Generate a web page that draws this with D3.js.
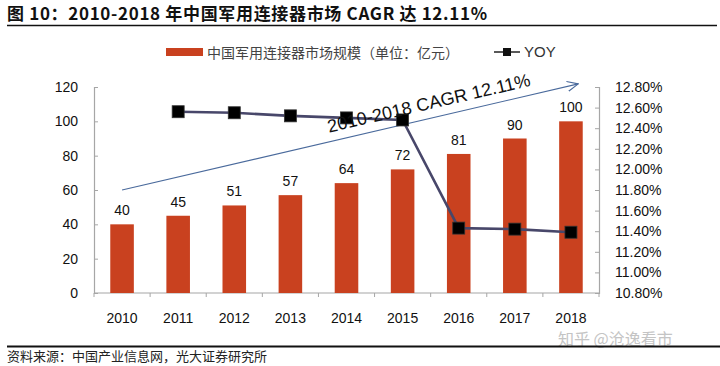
<!DOCTYPE html>
<html><head><meta charset="utf-8">
<script src="https://cdn.jsdelivr.net/npm/d3@7"></script>
<style>
html,body{margin:0;padding:0;background:#fff;}
svg{display:block;}
text{font-family:"Liberation Sans",Arial,sans-serif;}
.cjk{font-family:"Noto Sans CJK SC","Noto Sans",sans-serif;}
</style></head>
<body>
<svg id="chart" width="720" height="366"></svg>
<script>
const years = ["2010","2011","2012","2013","2014","2015","2016","2017","2018"];
const marketSize = [40,45,51,57,64,72,81,90,100];
const yoyYears = ["2011","2012","2013","2014","2015","2016","2017","2018"];
const yoy = [12.56,12.55,12.52,12.50,12.48,11.43,11.42,11.39];
const leftTicks = [0,20,40,60,80,100,120];
const rightTicks = [10.8,11.0,11.2,11.4,11.6,11.8,12.0,12.2,12.4,12.6,12.8];
const titleText = "图 10：2010-2018 年中国军用连接器市场 CAGR 达 12.11%";
const legendBar = "中国军用连接器市场规模（单位：亿元）";
const legendLine = "YOY";
const sourceText = "资料来源：中国产业信息网，光大证券研究所";
const cagrText = "2010-2018 CAGR 12.11%";
// CAGR arrow endpoints in data terms: [category position, left-axis value]
const cagrStart = [0, 60];
const cagrEnd = [8.13, 121.8];
const watermark = "知乎 @沧逸看市";

const svg = d3.select("#chart");
const x0 = 94, x1 = 599, yTop = 87, yBot = 293;

const x = d3.scaleBand().domain(years).range([x0, x1]).paddingInner(0.58).paddingOuter(0.29);
const yL = d3.scaleLinear().domain([0,120]).range([yBot, yTop]);
const yR = d3.scaleLinear().domain([10.8,12.8]).range([yBot, yTop]);
const step = x.step();
const cx = d => x(d) + x.bandwidth()/2;
const catPos = i => x(years[0]) + x.bandwidth()/2 + i*step;

// Title
svg.append("text").attr("class","cjk").attr("x",7).attr("y",20)
  .attr("font-size",17).attr("font-weight","bold").attr("fill","#111")
  .attr("textLength",480).attr("lengthAdjust","spacing").text(titleText);
svg.append("line").attr("x1",7).attr("x2",717).attr("y1",25.5).attr("y2",25.5)
  .attr("stroke","#111").attr("stroke-width",1.5);

// Legend
svg.append("rect").attr("x",166).attr("y",48).attr("width",37).attr("height",8).attr("fill","#c9411f");
svg.append("text").attr("class","cjk").attr("x",207).attr("y",53).attr("dy","0.35em")
  .attr("font-size",14).attr("fill","#444").text(legendBar);
svg.append("line").attr("x1",494).attr("x2",520).attr("y1",52).attr("y2",52)
  .attr("stroke","#222").attr("stroke-width",1.5);
svg.append("rect").attr("x",503).attr("y",48).attr("width",8).attr("height",8).attr("fill","#111");
svg.append("text").attr("x",524).attr("y",52).attr("dy","0.35em")
  .attr("font-size",15).attr("fill","#333").text(legendLine);

// Axes
const axisColor = "#a6a6a6";
const gL = svg.append("g").attr("transform",`translate(${x0},0)`)
  .call(d3.axisLeft(yL).tickValues(leftTicks).tickSize(-4).tickPadding(16).tickFormat(d3.format("d")));
const gR = svg.append("g").attr("transform",`translate(${x1},0)`)
  .call(d3.axisRight(yR).tickValues(rightTicks).tickSize(-4).tickPadding(16).tickFormat(d => d.toFixed(2)+"%"));
[gL,gR].forEach(g => {
  g.select(".domain").attr("stroke",axisColor).attr("stroke-width",1.2);
  g.selectAll(".tick line").attr("stroke",axisColor);
  g.selectAll(".tick text").attr("font-size",14).attr("fill","#111")
    .attr("font-family","'Liberation Sans',Arial,sans-serif");
});
gR.selectAll(".tick text").attr("x",16);
gL.selectAll(".tick text").attr("x",-16);

// X axis
svg.append("line").attr("x1",x0).attr("x2",x1).attr("y1",yBot).attr("y2",yBot)
  .attr("stroke",axisColor).attr("stroke-width",1.2);
svg.append("g").selectAll("line").data(d3.range(years.length+1)).join("line")
  .attr("x1",i => x0 + i*step).attr("x2",i => x0 + i*step)
  .attr("y1",yBot).attr("y2",yBot+4).attr("stroke",axisColor);
svg.append("g").selectAll("text").data(years).join("text")
  .attr("x",d => cx(d)).attr("y",318).attr("dy","0.35em").attr("text-anchor","middle")
  .attr("font-size",14).attr("fill","#111").text(d => d);

// Bars
svg.append("g").selectAll("rect").data(years).join("rect")
  .attr("x",d => x(d)).attr("width",x.bandwidth())
  .attr("y",(d,i) => yL(marketSize[i])).attr("height",(d,i) => yBot - yL(marketSize[i]))
  .attr("fill","#c9411f");
svg.append("g").selectAll("text").data(years).join("text")
  .attr("x",d => cx(d)).attr("y",(d,i) => yL(marketSize[i]) - 9)
  .attr("text-anchor","middle").attr("font-size",14).attr("fill","#111")
  .text((d,i) => marketSize[i]);

// CAGR arrow
const ax1 = catPos(cagrStart[0]), ay1 = yL(cagrStart[1]);
const ax2 = catPos(cagrEnd[0]), ay2 = yL(cagrEnd[1]);
svg.append("defs").append("marker").attr("id","arr").attr("viewBox","0 0 12 12")
  .attr("refX",11).attr("refY",6).attr("markerWidth",12).attr("markerHeight",12)
  .attr("markerUnits","userSpaceOnUse").attr("orient","auto")
  .append("path").attr("d","M0,1 L11,6 L0,11").attr("fill","none").attr("stroke","#4a6a9c").attr("stroke-width",1.1);
svg.append("line").attr("x1",ax1).attr("y1",ay1).attr("x2",ax2).attr("y2",ay2)
  .attr("stroke","#4a6a9c").attr("stroke-width",1.1).attr("marker-end","url(#arr)");
const ang = Math.atan2(ay2-ay1, ax2-ax1)*180/Math.PI;
const tmx = ax1 + (ax2-ax1)*0.68, tmy = ay1 + (ay2-ay1)*0.68;

// YOY line
const line = d3.line().x((d,i) => cx(yoyYears[i])).y(d => yR(d));
svg.append("path").datum(yoy).attr("d",line).attr("fill","none")
  .attr("stroke","#48476a").attr("stroke-width",2.6);
svg.append("g").selectAll("rect").data(yoy).join("rect")
  .attr("x",(d,i) => cx(yoyYears[i]) - 6).attr("y",d => yR(d) - 6)
  .attr("width",12).attr("height",12).attr("fill","#000").attr("stroke","#333").attr("stroke-width",0.8);

// CAGR text (drawn above line)
svg.append("text").attr("transform",`translate(${tmx},${tmy}) rotate(${ang}) translate(0,-9)`)
  .attr("text-anchor","middle").attr("font-size",18).attr("fill","#111").text(cagrText);

// Watermark
svg.append("text").attr("class","cjk").attr("x",558).attr("y",345)
  .attr("font-size",16).attr("fill","#c4c4c4").text(watermark);

// Source
svg.append("line").attr("x1",7).attr("x2",720).attr("y1",346.5).attr("y2",346.5)
  .attr("stroke","#111").attr("stroke-width",1.8);
svg.append("text").attr("class","cjk").attr("x",7).attr("y",356).attr("dy","0.35em")
  .attr("font-size",13).attr("fill","#222").text(sourceText);
</script>
</body></html>
